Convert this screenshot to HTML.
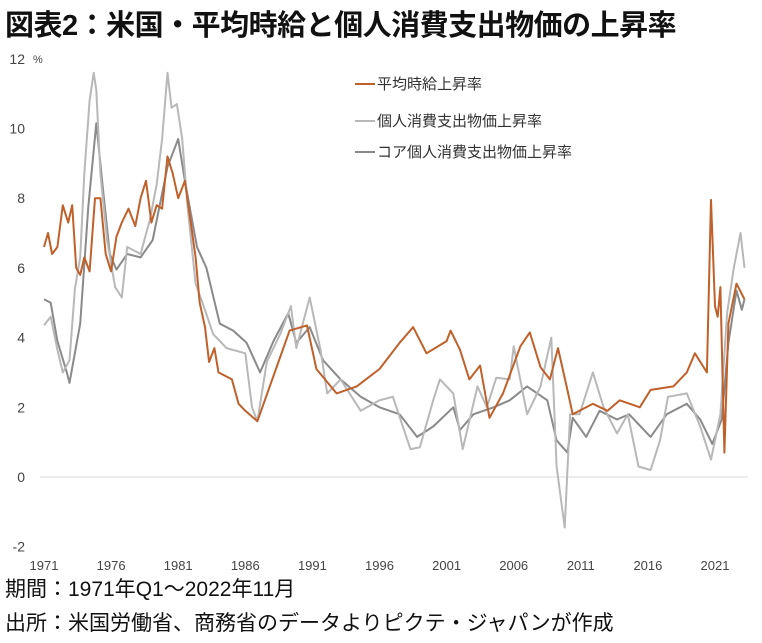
<!DOCTYPE html>
<html><head><meta charset="utf-8">
<style>
body{margin:0;background:#fff;width:762px;height:643px;overflow:hidden;font-family:"Liberation Sans","Noto Sans CJK JP",sans-serif;}
#title{position:absolute;left:5px;top:2px;font-size:29px;font-weight:bold;color:#111;letter-spacing:-0.5px;white-space:nowrap}
.foot{position:absolute;left:5px;font-size:21px;color:#111;white-space:nowrap}
svg{position:absolute;left:0;top:0}
</style></head><body>
<div id="title">図表2：米国・平均時給と個人消費支出物価の上昇率</div>
<svg id="chart" width="762" height="643"></svg>
<div class="foot" style="top:573px">期間：1971年Q1～2022年11月</div>
<div class="foot" style="top:607px">出所：米国労働省、商務省のデータよりピクテ・ジャパンが作成</div>
<script>
const yTicks=[12,10,8,6,4,2,0,-2];
const yTickLabels=["12","10","8","6","4","2","0","-2"];
const xTicks=[1971,1976,1981,1986,1991,1996,2001,2006,2011,2016,2021];
const wageT=[1971,1971.3,1971.6,1972,1972.4,1972.8,1973.1,1973.4,1973.7,1974,1974.4,1974.8,1975.2,1975.6,1976,1976.4,1976.8,1977.3,1977.8,1978.2,1978.6,1979,1979.4,1979.8,1980.2,1980.6,1981,1981.5,1982.3,1982.6,1983,1983.3,1983.7,1984,1984.5,1985,1985.5,1986,1986.9,1989.3,1990.6,1991.3,1992.8,1994.3,1996,1997.5,1998.5,1999.5,2001,2001.3,2002,2002.7,2003.5,2004.2,2005.2,2006.5,2007.2,2008,2008.7,2009.3,2010,2010.4,2011.9,2013,2013.9,2015.4,2016.2,2017.9,2018.9,2019.5,2020.4,2020.7,2021,2021.2,2021.4,2021.7,2022,2022.6,2023.2];
const wageV=[6.6,7.0,6.4,6.6,7.8,7.3,7.8,6.0,5.8,6.3,5.9,8.0,8.0,6.4,5.9,6.9,7.3,7.7,7.2,8.0,8.5,7.3,7.8,7.7,9.2,8.7,8.0,8.5,6.3,5.0,4.3,3.3,3.7,3.0,2.9,2.8,2.1,1.9,1.6,4.2,4.35,3.1,2.4,2.6,3.1,3.85,4.3,3.55,3.9,4.2,3.65,2.8,3.2,1.7,2.4,3.75,4.15,3.15,2.8,3.7,2.5,1.8,2.1,1.9,2.2,2.0,2.5,2.6,3.0,3.55,3.0,7.95,4.9,4.6,5.45,0.7,4.4,5.55,5.1];
const pceT=[1971,1971.5,1972,1972.4,1972.9,1973.3,1973.7,1974,1974.4,1974.7,1974.9,1975.2,1975.7,1976.3,1976.8,1977.2,1978.2,1978.9,1979.4,1979.8,1980.2,1980.5,1980.9,1981.3,1981.7,1982.3,1982.9,1983.6,1984.6,1986,1986.5,1986.9,1987.6,1988.6,1989.4,1989.8,1990.8,1991.6,1992.1,1993.1,1994.6,1996,1997,1998.3,1999,2000,2000.5,2001.5,2002.2,2003.3,2004,2004.7,2005.7,2006,2007,2008,2008.8,2009.2,2009.8,2010.2,2010.9,2011.9,2012.7,2013.7,2014.5,2015.3,2016.2,2016.9,2017.5,2018.9,2019.9,2020.7,2021.4,2021.9,2022.4,2022.9,2023.2];
const pceV=[4.35,4.6,3.65,3.0,3.35,5.4,6.3,8.7,10.8,11.6,11.1,8.7,6.8,5.45,5.15,6.6,6.4,7.4,8.4,9.7,11.6,10.6,10.7,9.7,7.75,5.55,4.9,4.1,3.7,3.55,2.0,1.6,3.3,4.1,4.9,3.7,5.15,3.65,2.4,2.8,1.9,2.2,2.3,0.8,0.85,2.2,2.8,2.4,0.8,2.6,2.0,2.85,2.8,3.75,1.8,2.6,4.0,0.3,-1.45,1.8,1.8,3.0,2.0,1.25,1.8,0.3,0.2,1.05,2.3,2.4,1.45,0.5,1.8,4.7,6.0,7.0,6.0];
const coreT=[1971,1971.5,1972,1972.7,1972.9,1973.7,1974.3,1974.9,1975.4,1975.9,1976.4,1977.2,1978.2,1979.1,1980.2,1981,1981.5,1982.4,1983.1,1984.1,1985.1,1986.1,1987.1,1988.1,1989.2,1989.8,1990.8,1991.8,1993.1,1994.6,1996,1997.5,1998.8,2000,2001.5,2002,2003,2004.5,2005.7,2007,2008.5,2009.2,2010,2010.4,2011.4,2012.4,2013.7,2014.6,2016.2,2017.4,2018.9,2019.9,2020.8,2021.5,2022,2022.6,2023,2023.2];
const coreV=[5.1,5.0,3.9,3.0,2.7,4.4,7.75,10.15,8.25,6.4,5.95,6.4,6.3,6.8,8.9,9.7,8.5,6.6,6.0,4.4,4.2,3.85,3.0,3.9,4.7,3.85,4.3,3.35,2.8,2.3,2.0,1.8,1.15,1.45,2.0,1.35,1.8,2.0,2.2,2.6,2.2,1.05,0.7,1.7,1.15,1.9,1.65,1.8,1.15,1.8,2.1,1.65,0.95,1.65,3.85,5.35,4.8,5.1];
const legendLabels=["平均時給上昇率","個人消費支出物価上昇率","コア個人消費支出物価上昇率"];
const colors=["#c0602a","#b8b8b8","#8a8a8a"];

const svg=document.getElementById('chart');
const NS='http://www.w3.org/2000/svg';
function xS(t){return 44+(t-1971)*13.42;}
function yS(v){return 477-v*34.85;}
function mk(tag,attrs){const e=document.createElementNS(NS,tag);for(const k in attrs)e.setAttribute(k,attrs[k]);svg.appendChild(e);return e;}

const zl=mk('line',{x1:40,x2:748,y1:yS(0),y2:yS(0),stroke:'#d9d9d9','stroke-width':1});



yTicks.forEach((v,i)=>{
  const t=mk('text',{x:25,y:yS(v)+5,'text-anchor':'end','font-size':14,fill:'#444','font-family':'Liberation Sans, sans-serif'});
  t.textContent=yTickLabels[i];
  
  
});
const pc=mk('text',{x:33,y:63,'font-size':11,fill:'#444'});
pc.textContent='%';



xTicks.forEach(y=>{
  const t=mk('text',{x:xS(y),y:570,'text-anchor':'middle','font-size':13,fill:'#444','font-family':'Liberation Sans, sans-serif'});
  t.textContent=String(y);
  
  
});

const series=[[coreT,coreV,colors[2],'core-pce-line'],[pceT,pceV,colors[1],'pce-line'],[wageT,wageV,colors[0],'wage-line']];
series.forEach(s=>{
  const d=s[0].map((t,i)=>(i?'L':'M')+xS(t).toFixed(1)+' '+yS(s[1][i]).toFixed(1)).join(' ');
  const p=mk('path',{d:d,fill:'none',stroke:s[2],'stroke-width':2,'stroke-linejoin':'round'});
  
  
});

const ly=[84,121,152],lc=[colors[0],colors[1],colors[2]];
legendLabels.forEach((lab,i)=>{
  const l=mk('line',{x1:355,x2:375,y1:ly[i],y2:ly[i],stroke:lc[i],'stroke-width':2});
  
  
  const t=mk('text',{x:377,y:ly[i]+5,'font-size':15,fill:'#333','font-family':'Liberation Sans, Noto Sans CJK JP, sans-serif'});
  t.textContent=lab;
  
  
});
</script>
</body></html>
